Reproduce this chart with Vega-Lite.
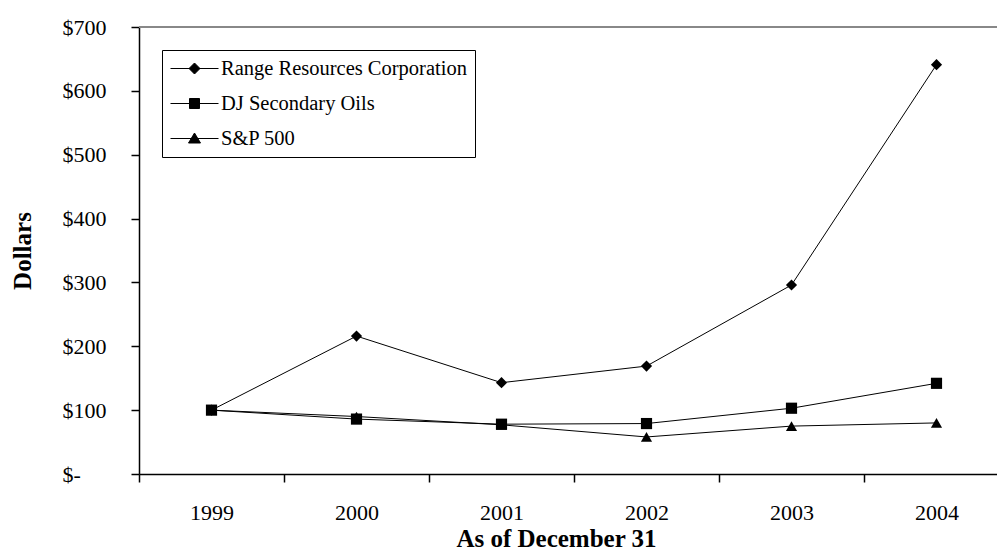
{
  "$schema": "https://vega.github.io/schema/vega-lite/v6.json",
  "width": 870,
  "height": 447,
  "autosize": "none",
  "padding": {"left": 139, "top": 27, "right": 0, "bottom": 77},
  "background": "white",
  "config": {
    "view": {"stroke": null},
    "font": "Liberation Serif",
    "axis": {
      "domainColor": "black",
      "domainWidth": 1.5,
      "tickColor": "black",
      "tickWidth": 1.5,
      "labelColor": "black",
      "labelFont": "Liberation Serif",
      "labelFontSize": 22,
      "titleColor": "black",
      "titleFont": "Liberation Serif",
      "titleFontSize": 25,
      "titleFontWeight": "bold",
      "grid": false
    }
  },
  "data": {
    "values": [
      {"series": "Range Resources Corporation", "year": 1999, "value": 100},
      {"series": "Range Resources Corporation", "year": 2000, "value": 216},
      {"series": "Range Resources Corporation", "year": 2001, "value": 143},
      {"series": "Range Resources Corporation", "year": 2002, "value": 169},
      {"series": "Range Resources Corporation", "year": 2003, "value": 296},
      {"series": "Range Resources Corporation", "year": 2004, "value": 641},
      {"series": "DJ Secondary Oils", "year": 1999, "value": 100},
      {"series": "DJ Secondary Oils", "year": 2000, "value": 86},
      {"series": "DJ Secondary Oils", "year": 2001, "value": 78},
      {"series": "DJ Secondary Oils", "year": 2002, "value": 79},
      {"series": "DJ Secondary Oils", "year": 2003, "value": 103},
      {"series": "DJ Secondary Oils", "year": 2004, "value": 142},
      {"series": "S&P 500", "year": 1999, "value": 100},
      {"series": "S&P 500", "year": 2000, "value": 90},
      {"series": "S&P 500", "year": 2001, "value": 77},
      {"series": "S&P 500", "year": 2002, "value": 58},
      {"series": "S&P 500", "year": 2003, "value": 75},
      {"series": "S&P 500", "year": 2004, "value": 80}
    ]
  },
  "resolve": {
    "axis": {"x": "independent"},
    "scale": {"shape": "independent"},
    "legend": {"shape": "independent"}
  },
  "layer": [
    {
      "mark": {"type": "rule", "color": "#888888", "strokeWidth": 1.5},
      "encoding": {
        "y": {"datum": 700, "type": "quantitative"}
      }
    },
    {
      "mark": {"type": "line", "color": "black", "strokeWidth": 1},
      "encoding": {
        "x": {
          "field": "year",
          "type": "quantitative",
          "scale": {"domain": [1998.5, 2004.5], "nice": false, "zero": false},
          "axis": {
            "orient": "bottom",
            "values": [1998.5, 1999.5, 2000.5, 2001.5, 2002.5, 2003.5, 2004.5],
            "labels": false,
            "tickSize": 8,
            "domain": true,
            "title": "As of December 31",
            "titleX": 417,
            "titleY": 72,
            "titleBaseline": "alphabetic",
            "titleAnchor": "middle"
          }
        },
        "y": {
          "field": "value",
          "type": "quantitative",
          "scale": {"domain": [0, 700], "nice": false},
          "axis": {
            "values": [0, 100, 200, 300, 400, 500, 600, 700],
            "labelExpr": "datum.value === 0 ? '$-' : '$' + datum.value",
            "labelAlign": "left",
            "tickSize": 8,
            "labelPadding": 69,
            "title": "Dollars",
            "titlePadding": 27
          }
        },
        "detail": {"field": "series", "type": "nominal"}
      }
    },
    {
      "mark": {"type": "point", "filled": true, "color": "black", "opacity": 1, "size": 125},
      "encoding": {
        "x": {
          "field": "year",
          "type": "quantitative",
          "axis": {
            "orient": "bottom",
            "values": [1999, 2000, 2001, 2002, 2003, 2004],
            "format": "d",
            "ticks": false,
            "tickSize": 0,
            "domain": false,
            "labelPadding": 45,
            "labelBaseline": "alphabetic",
            "title": null
          }
        },
        "y": {"field": "value", "type": "quantitative"},
        "shape": {
          "field": "series",
          "type": "nominal",
          "scale": {
            "domain": ["Range Resources Corporation", "DJ Secondary Oils", "S&P 500"],
            "range": ["diamond", "square", "triangle-up"]
          },
          "legend": null
        }
      }
    },
    {
      "mark": {"type": "point", "filled": false, "color": "black", "fill": "black", "strokeWidth": 1, "opacity": 0, "size": 400},
      "encoding": {
        "x": {"field": "year", "type": "quantitative", "axis": null},
        "y": {"field": "value", "type": "quantitative"},
        "shape": {
          "field": "series",
          "type": "nominal",
          "scale": {
            "domain": ["Range Resources Corporation", "DJ Secondary Oils", "S&P 500"],
            "range": [
              "M-1,0H3.8M1.4,-0.55L1.95,0L1.4,0.55L0.85,0Z",
              "M-1,0H3.8M0.9,-0.5H1.9V0.5H0.9Z",
              "M-1,0H3.8M1.4,-0.55L2,0.45L0.8,0.45Z"
            ]
          },
          "legend": {
            "title": null,
            "orient": "none",
            "legendX": 23,
            "legendY": 23,
            "padding": 8,
            "strokeColor": "black",
            "fillColor": "white",
            "symbolSize": 400,
            "symbolOpacity": 1,
            "symbolStrokeWidth": 1,
            "rowPadding": 14,
            "labelOffset": 30,
            "labelFont": "Liberation Serif",
            "labelFontSize": 20.5,
            "labelColor": "black",
            "labelLimit": 400,
            "encode": {
              "legend": {
                "strokeWidth": {"value": 1.5}
              },
              "symbols": {
                "stroke": {"value": "black"},
                "strokeWidth": {"value": 1},
                "fill": {"value": "black"}
              }
            }
          }
        }
      }
    }
  ]
}
